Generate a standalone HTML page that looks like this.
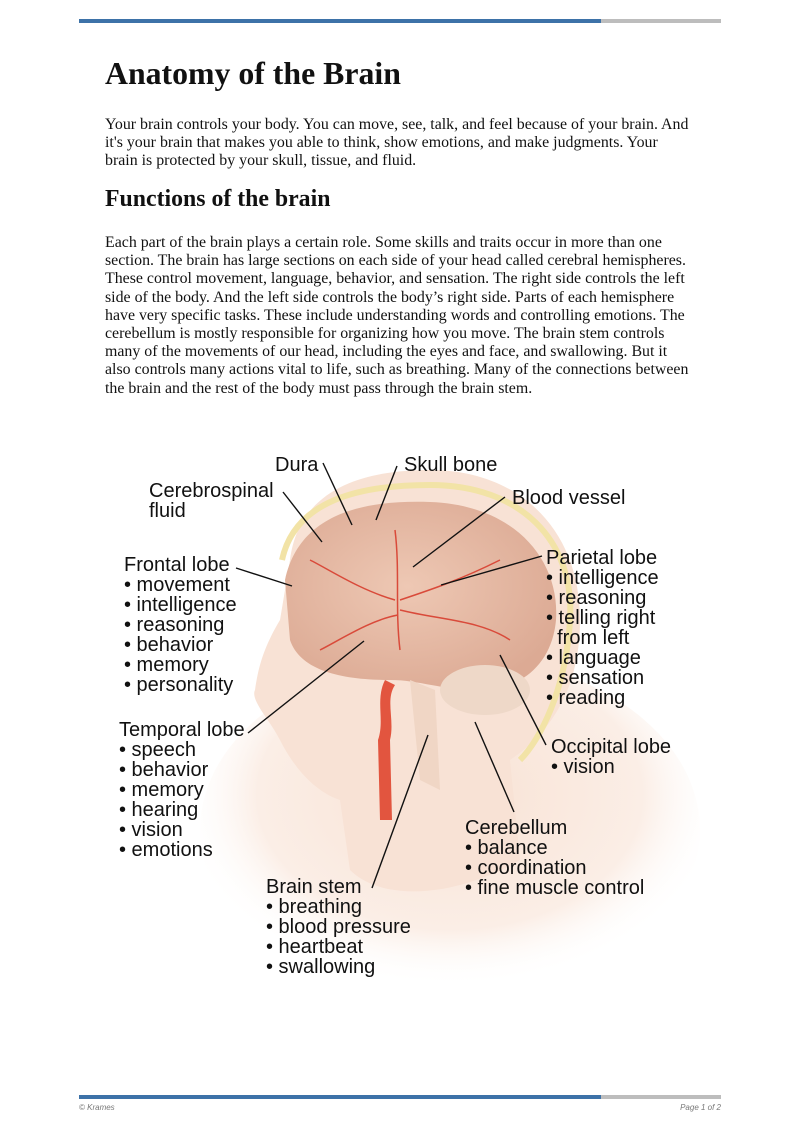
<!DOCTYPE html>
<html><head><meta charset="utf-8"><style>
body{margin:0;background:#fff;width:800px;height:1130px;position:relative;overflow:hidden}
.bar{position:absolute;height:4px}
.t{position:absolute;font-family:"Liberation Serif",serif;color:#111;white-space:nowrap}
p.t{margin:0;font-size:15.9px;line-height:18.2px}
.l{position:absolute;font-family:"Liberation Sans",sans-serif;font-size:20px;line-height:20px;color:#111;white-space:nowrap}
</style></head><body>
<div class="bar" style="left:79px;top:19px;width:522px;background:#3d72a8"></div>
<div class="bar" style="left:601px;top:19px;width:120px;background:#bdbdbd"></div>
<div class="t" style="left:105px;top:56px;font-size:31.8px;font-weight:bold">Anatomy of the Brain</div>
<p class="t" style="left:105px;top:116px">Your brain controls your body. You can move, see, talk, and feel because of your brain. And<br>it's your brain that makes you able to think, show emotions, and make judgments. Your<br>brain is protected by your skull, tissue, and fluid.</p>
<div class="t" style="left:105px;top:186px;font-size:23.8px;font-weight:bold">Functions of the brain</div>
<p class="t" style="left:105px;top:234px">Each part of the brain plays a certain role. Some skills and traits occur in more than one<br>section. The brain has large sections on each side of your head called cerebral hemispheres.<br>These control movement, language, behavior, and sensation. The right side controls the left<br>side of the body. And the left side controls the body’s right side. Parts of each hemisphere<br>have very specific tasks. These include understanding words and controlling emotions. The<br>cerebellum is mostly responsible for organizing how you move. The brain stem controls<br>many of the movements of our head, including the eyes and face, and swallowing. But it<br>also controls many actions vital to life, such as breathing. Many of the connections between<br>the brain and the rest of the body must pass through the brain stem.</p>

<svg style="position:absolute;left:0;top:0" width="800" height="1130">
<defs>
<radialGradient id="sk" cx="0.5" cy="0.4" r="0.55"><stop offset="0" stop-color="#f8e2d4"/><stop offset="0.7" stop-color="#fbeee6"/><stop offset="1" stop-color="#fff" stop-opacity="0"/></radialGradient>
<radialGradient id="br" cx="0.45" cy="0.45" r="0.6"><stop offset="0" stop-color="#eec8b4"/><stop offset="1" stop-color="#dcaa94"/></radialGradient>
</defs>
<ellipse cx="450" cy="830" rx="250" ry="175" fill="url(#sk)"/>
<path d="M290,560 C300,480 380,470 430,470 C520,470 580,530 580,620 C580,700 540,740 510,760 L520,860 C450,900 380,900 350,870 L340,800 C310,790 290,760 280,740 C270,720 250,700 255,690 C258,670 262,650 280,620 Z" fill="#f8e2d5"/>
<path d="M282,560 C295,500 360,485 430,485 C520,485 575,540 570,620 C566,690 540,740 520,760" fill="none" stroke="#f2e3a6" stroke-width="6"/>
<path d="M285,580 C300,510 370,500 430,502 C515,505 560,560 556,620 C552,665 520,690 480,690 C440,690 420,680 390,680 C340,680 300,670 290,640 Z" fill="url(#br)"/>
<ellipse cx="485" cy="690" rx="45" ry="25" fill="#eed8c8"/>
<path d="M410,680 L420,780 L440,790 L435,690 Z" fill="#f0d6c5"/>
<path d="M385,680 C375,700 385,720 378,740 L380,820 L392,820 L390,740 C395,720 385,700 395,685" fill="#e2553f"/>
<g stroke="#d94a3a" stroke-width="1.5" fill="none">
<path d="M395,530 C400,570 395,610 400,650"/><path d="M400,600 C430,590 460,580 500,560"/><path d="M400,610 C440,620 480,620 510,640"/><path d="M395,600 C360,590 330,570 310,560"/><path d="M398,615 C370,620 340,640 320,650"/>
</g>
<g stroke="#111" stroke-width="1.4">
<line x1="323" y1="463" x2="352" y2="525"/><line x1="397" y1="466" x2="376" y2="520"/>
<line x1="283" y1="492" x2="322" y2="542"/><line x1="505" y1="497" x2="413" y2="567"/>
<line x1="236" y1="568" x2="292" y2="586"/><line x1="542" y1="556" x2="441" y2="585"/>
<line x1="248" y1="733" x2="364" y2="641"/><line x1="546" y1="745" x2="500" y2="655"/>
<line x1="514" y1="812" x2="475" y2="722"/><line x1="372" y1="888" x2="428" y2="735"/>
</g>
</svg>

<div class="l" style="left:275px;top:455px">Dura</div>
<div class="l" style="left:404px;top:455px">Skull bone</div>
<div class="l" style="left:149px;top:481px">Cerebrospinal<br>fluid</div>
<div class="l" style="left:512px;top:488px">Blood vessel</div>
<div class="l" style="left:124px;top:555px">Frontal lobe<br>• movement<br>• intelligence<br>• reasoning<br>• behavior<br>• memory<br>• personality</div>
<div class="l" style="left:546px;top:548px">Parietal lobe<br>• intelligence<br>• reasoning<br>• telling right<br>&nbsp;&nbsp;from left<br>• language<br>• sensation<br>• reading</div>
<div class="l" style="left:119px;top:720px">Temporal lobe<br>• speech<br>• behavior<br>• memory<br>• hearing<br>• vision<br>• emotions</div>
<div class="l" style="left:551px;top:737px">Occipital lobe<br>• vision</div>
<div class="l" style="left:465px;top:818px">Cerebellum<br>• balance<br>• coordination<br>• fine muscle control</div>
<div class="l" style="left:266px;top:877px">Brain stem<br>• breathing<br>• blood pressure<br>• heartbeat<br>• swallowing</div>

<div class="bar" style="left:79px;top:1095px;width:522px;background:#3d72a8"></div>
<div class="bar" style="left:601px;top:1095px;width:120px;background:#bdbdbd"></div>
<div style="position:absolute;left:79px;top:1103px;font:italic 8px 'Liberation Sans',sans-serif;color:#777">© Krames</div>
<div style="position:absolute;right:79px;top:1103px;font:italic 8px 'Liberation Sans',sans-serif;color:#777">Page 1 of 2</div>
</body></html>
